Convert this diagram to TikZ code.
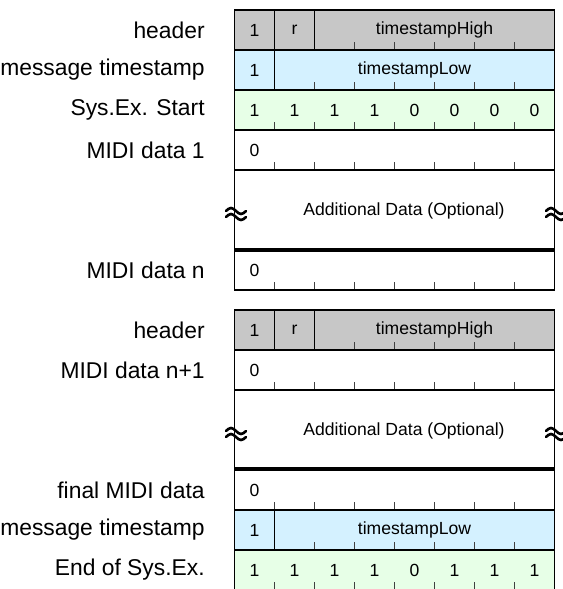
\documentclass[tikz,border=0pt]{standalone}
\usepackage{fontspec}
\setmainfont{Liberation Sans}
\definecolor{hdrgray}{RGB}{199,199,199}
\definecolor{tsblue}{RGB}{212,241,255}
\definecolor{sxgreen}{RGB}{231,255,231}
\begin{document}
\begin{tikzpicture}[x=0.02cm,y=-0.02cm,
    lbl/.style={anchor=east,inner sep=0pt,font=\fontsize{13}{15}\selectfont},
    bit/.style={inner sep=0pt,font=\fontsize{10}{12}\selectfont},
    frame/.style={line width=1.1pt},
    tickmark/.style={line width=0.55pt,black!75},
    wave/.style={line width=1.5pt,line cap=round}]
  \useasboundingbox (0,0) rectangle (562,589);

  % first packet
  \fill[hdrgray] (234.5,10) rectangle (554.5,50);
  \fill[tsblue] (234.5,50) rectangle (554.5,90);
  \fill[sxgreen] (234.5,90) rectangle (554.5,130);

  \foreach \x in {3,...,7} \draw[tickmark] (234.5+40*\x,50) -- ++(0,-8);
  \foreach \x in {2,...,7} \draw[tickmark] (234.5+40*\x,90) -- ++(0,-8);
  \foreach \x in {1,...,7} {
    \draw[tickmark] (234.5+40*\x,130) -- ++(0,-8);
    \draw[tickmark] (234.5+40*\x,170) -- ++(0,-8);
    \draw[tickmark] (234.5+40*\x,290) -- ++(0,-8);
  }

  \draw[frame] (234.5,10) rectangle (554.5,50);
  \draw[frame] (274.5,10) -- (274.5,50);
  \draw[frame] (314.5,10) -- (314.5,50);
  \draw[frame] (234.5,50) rectangle (554.5,90);
  \draw[frame] (274.5,50) -- (274.5,90);
  \draw[frame] (234.5,90) rectangle (554.5,130);
  \draw[frame] (234.5,130) rectangle (554.5,170);
  \draw[frame] (234.5,170) rectangle (554.5,249);
  \draw[frame] (234.5,251) rectangle (554.5,290);

  \node[bit] (hdA1) at (254.5,30) {1};
  \node[bit] (hdAr) at (294.5,30) {r};
  \node[bit] (tshA) at (434.5,30) {timestampHigh};
  \node[bit] (tslA1) at (254.5,70) {1};
  \node[bit] (tslA) at (414.5,70) {timestampLow};
  \foreach \b [count=\i] in {1,1,1,1,0,0,0,0}
    \node[bit] (sx\i) at (214.5+40*\i,110) {\b};
  \node[bit] (mdA1) at (254.5,150) {0};
  \node[bit] (addA) at (404,211) {Additional Data (Optional)};
  \node[bit] (mdAn) at (254.5,270) {0};

  \node[lbl] (lhdA) at (205,30) {header};
  \node[lbl] (ltsA) at (205,70) {message timestamp};
  \node[lbl] (lsx) at (205,110) {Sys.Ex. Start};
  \node[lbl] (lmd1) at (205,150) {MIDI data 1};
  \node[lbl] (lmdn) at (205,270) {MIDI data n};

  % second packet
  \fill[hdrgray] (234.5,310) rectangle (554.5,350);
  \fill[tsblue] (234.5,510) rectangle (554.5,550);
  \fill[sxgreen] (234.5,550) rectangle (554.5,590);

  \foreach \x in {3,...,7} \draw[tickmark] (234.5+40*\x,350) -- ++(0,-8);
  \foreach \x in {2,...,7} \draw[tickmark] (234.5+40*\x,550) -- ++(0,-8);
  \foreach \x in {1,...,7} {
    \draw[tickmark] (234.5+40*\x,390) -- ++(0,-8);
    \draw[tickmark] (234.5+40*\x,510) -- ++(0,-8);
    \draw[tickmark] (234.5+40*\x,590) -- ++(0,-8);
  }

  \draw[frame] (234.5,310) rectangle (554.5,350);
  \draw[frame] (274.5,310) -- (274.5,350);
  \draw[frame] (314.5,310) -- (314.5,350);
  \draw[frame] (234.5,350) rectangle (554.5,390);
  \draw[frame] (234.5,390) rectangle (554.5,468);
  \draw[frame] (234.5,470) rectangle (554.5,510);
  \draw[frame] (234.5,510) rectangle (554.5,550);
  \draw[frame] (274.5,510) -- (274.5,550);
  \draw[frame] (234.5,550) rectangle (554.5,590);

  \node[bit] (hdB1) at (254.5,330) {1};
  \node[bit] (hdBr) at (294.5,330) {r};
  \node[bit] (tshB) at (434.5,330) {timestampHigh};
  \node[bit] (mdB1) at (254.5,370) {0};
  \node[bit] (addB) at (404,431) {Additional Data (Optional)};
  \node[bit] (mdBf) at (254.5,490) {0};
  \node[bit] (tslB1) at (254.5,530) {1};
  \node[bit] (tslB) at (414.5,530) {timestampLow};
  \foreach \b [count=\i] in {1,1,1,1,0,1,1,1}
    \node[bit] (ex\i) at (214.5+40*\i,570) {\b};

  \node[lbl] (lhdB) at (205,330) {header};
  \node[lbl] (lmdn1) at (205,370) {MIDI data n+1};
  \node[lbl] (lfin) at (205,490) {final MIDI data};
  \node[lbl] (ltsB) at (205,530) {message timestamp};
  \node[lbl] (lex) at (205,570) {End of Sys.Ex.};

  % break marks on the side edges
  \foreach \cx/\cy in {236/213,556/213,236/433,556/433} {
    \draw[wave] (\cx-10,\cy-2) sin (\cx-5,\cy-5) cos (\cx,\cy-2) sin (\cx+5,\cy+1) cos (\cx+10,\cy-2);
    \draw[wave] (\cx-10,\cy+4) sin (\cx-5,\cy+1) cos (\cx,\cy+4) sin (\cx+5,\cy+7) cos (\cx+10,\cy+4);
  }
\end{tikzpicture}
\end{document}
